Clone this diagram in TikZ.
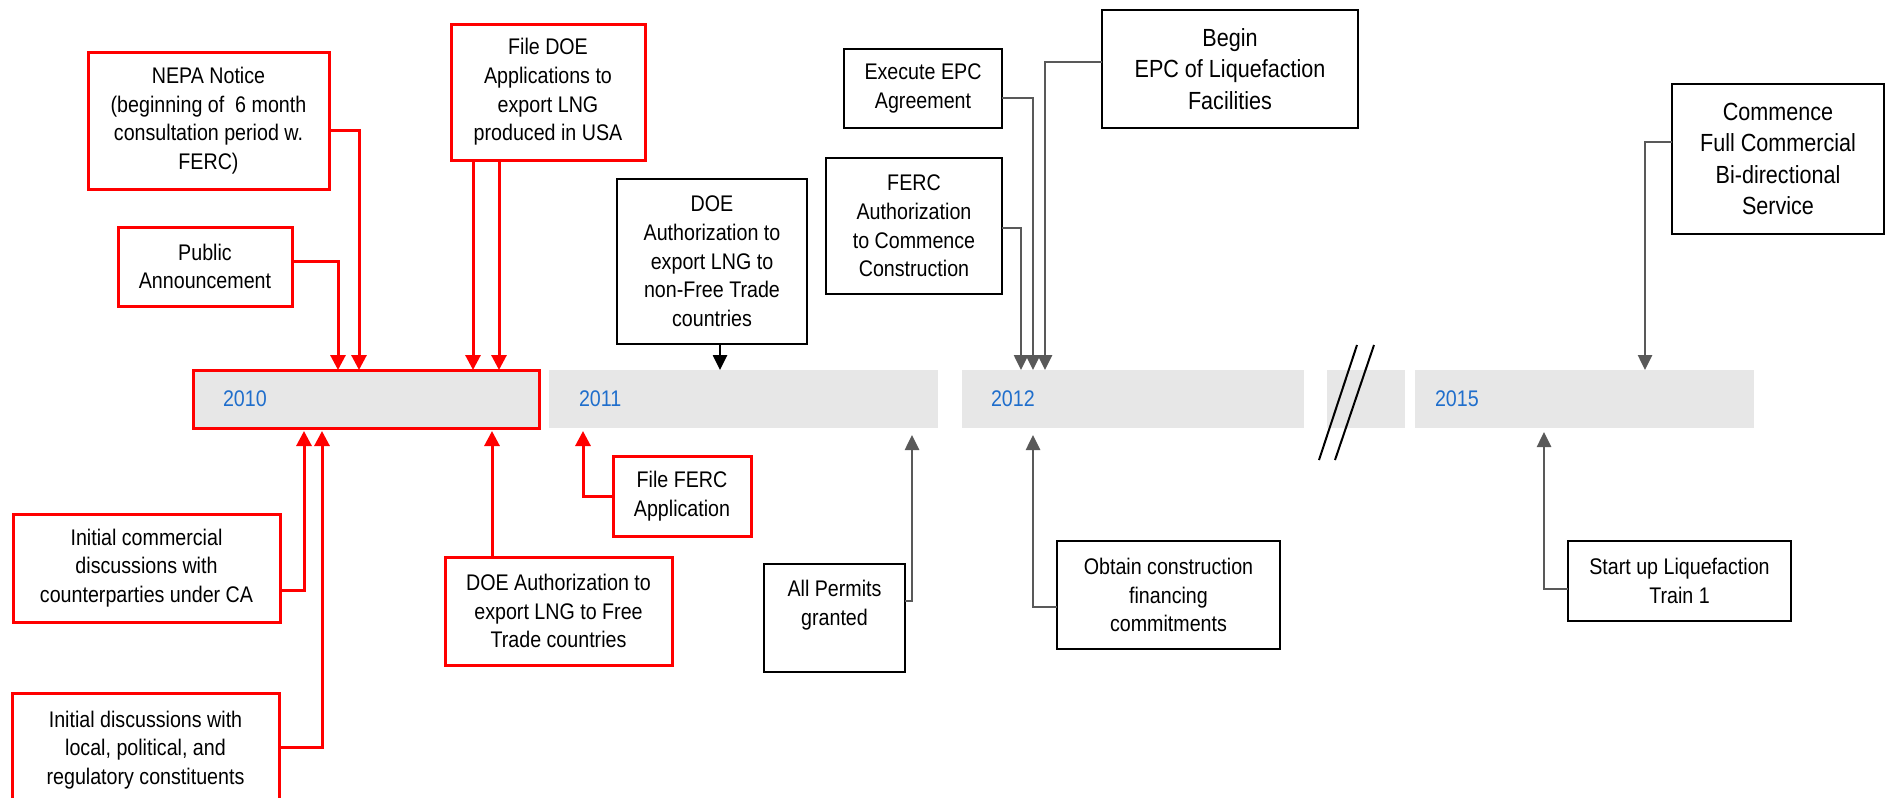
\documentclass[tikz,border=0pt]{standalone}
\usepackage{fontspec}
\setmainfont[FakeStretch=0.87]{Liberation Sans}
\usetikzlibrary{arrows.meta,calc}
\definecolor{barfill}{RGB}{231,231,231}
\definecolor{yearblue}{RGB}{31,110,204}
\definecolor{conngrey}{RGB}{89,89,89}
\definecolor{pptred}{RGB}{255,0,0}
\tikzset{
 every node/.style={inner sep=0pt, outer sep=0pt},
 txt/.style={align=center,font=\fontsize{11.3}{14.35}\selectfont},
 bigtxt/.style={align=center,font=\fontsize{12.4}{15.8}\selectfont},
 redbox/.style={draw=pptred, line width=1.5pt, fill=white, rectangle, txt},
 blkbox/.style={draw=black, line width=1.3pt, fill=white, rectangle, txt},
 bar/.style={fill=barfill, minimum height=29pt, rectangle},
 year/.style={text=yearblue, font=\fontsize{11.3}{13}\selectfont, anchor=west},
 redarr/.style={draw=pptred, line width=1.5pt, -{Triangle[width=7.5pt,length=7.5pt]}},
 greyarr/.style={draw=conngrey, line width=1.3pt, -{Triangle[width=7pt,length=7.5pt]}},
 blkarr/.style={draw=black, line width=1.3pt, -{Triangle[width=7pt,length=7.5pt]}},
 brk/.style={draw=black, line width=1pt},
}
\begin{document}
\begin{tikzpicture}[x=0.5pt,y=-0.5pt]
\useasboundingbox (0,0) rectangle (1886,798);

% timeline bars
\node[bar, draw=pptred, line width=1.5pt, minimum width=173pt] (y2010) at (366,399) {};
\node[bar, minimum width=194.5pt] (y2011) at (743.5,399) {};
\node[bar, minimum width=171pt] (y2012) at (1133,399) {};
\node[bar, minimum width=39pt] (ygap) at (1366,399) {};
\node[bar, minimum width=169.5pt] (y2015) at (1584.5,399) {};
\node[year] (l2010) at ($(y2010.west)+(30,0)$) {2010};
\node[year] (l2011) at ($(y2011.west)+(30,0)$) {2011};
\node[year] (l2012) at ($(y2012.west)+(29,0)$) {2012};
\node[year] (l2015) at ($(y2015.west)+(20,0)$) {2015};

% break mark
\draw[brk] (1357,345) -- (1319,460);
\draw[brk] (1374,345) -- (1335,460);

% red boxes
\node[redbox, minimum width=120.5pt, minimum height=68.5pt] (nepa) at (208.5,120.5)
  {NEPA Notice\\(beginning of \ 6 month\\consultation period w.\\FERC)};
\node[redbox, minimum width=87pt, minimum height=39.5pt] (pub) at (205,266.5)
  {Public\\Announcement};
\node[redbox, minimum width=97pt, minimum height=68pt] (filedoe) at (548,92)
  {File DOE\\Applications to\\export LNG\\produced in USA};
\node[redbox, minimum width=133.5pt, minimum height=54pt] (initcom) at (146.5,568)
  {Initial commercial\\discussions with\\counterparties under CA};
\node[redbox, minimum width=133.5pt, minimum height=57pt] (initdisc) at (145.5,750)
  {Initial discussions with\\local, political, and\\regulatory constituents};
\node[redbox, minimum width=113.5pt, minimum height=54pt] (doeft) at (558.5,611)
  {DOE Authorization to\\export LNG to Free\\Trade countries};
\node[redbox, minimum width=69pt, minimum height=40pt] (fileferc) at (682,496)
  {File FERC\\Application};

% black boxes
\node[blkbox, minimum width=95pt, minimum height=82.5pt] (doenft) at (712,261.5)
  {DOE\\Authorization to\\export LNG to\\non-Free Trade\\countries};
\node[blkbox, minimum width=79pt, minimum height=39.5pt] (execepc) at (923,88.5)
  {Execute EPC\\Agreement};
\node[blkbox, minimum width=88pt, minimum height=68pt] (ferc) at (914,226)
  {FERC\\Authorization\\to Commence\\Construction};
\node[blkbox, bigtxt, minimum width=128pt, minimum height=59pt] (beginepc) at (1230,69)
  {Begin\\EPC of Liquefaction\\Facilities};
\node[blkbox, bigtxt, minimum width=106pt, minimum height=75pt] (commence) at (1778,159)
  {Commence\\Full Commercial\\Bi-directional\\Service};
\node[blkbox, minimum width=70.5pt, minimum height=54pt] (permits) at (834.5,618) {};
\node[txt] (permitstxt) at ($(permits.center)+(0,-13)$) {All Permits\\granted};
\node[blkbox, minimum width=111.5pt, minimum height=54pt] (obtain) at (1168.5,595)
  {Obtain construction\\financing\\commitments};
\node[blkbox, minimum width=111.5pt, minimum height=40pt] (startup) at (1679.5,581)
  {Start up Liquefaction\\Train 1};

% red connectors
\draw[redarr] ($(nepa.east)+(0,9.5)$) -| ($(y2010.north west)+(166,0)$);
\draw[redarr] ($(pub.east)+(0,-5.5)$) -| ($(y2010.north west)+(145,0)$);
\draw[redarr] ($(filedoe.south west)+(22,0)$) -- ($(y2010.north west)+(280,0)$);
\draw[redarr] ($(filedoe.south west)+(48,0)$) -- ($(y2010.north west)+(306,0)$);
\draw[redarr] ($(initcom.east)+(0,22)$) -| ($(y2010.south west)+(111,3)$);
\draw[redarr] ($(initdisc.east)+(0,-3)$) -| ($(y2010.south west)+(129,3)$);
\draw[redarr] ($(doeft.north west)+(47,0)$) -- ($(y2010.south west)+(299,3)$);
\draw[redarr] (fileferc.west) -| ($(y2011.south west)+(34,3)$);

% black connector
\draw[blkarr] ($(doenft.south)+(8,0)$) -- ($(y2011.north west)+(171,0)$);

% grey connectors
\draw[greyarr] ($(execepc.east)+(0,9.5)$) -| ($(y2012.north west)+(71,0)$);
\draw[greyarr] ($(ferc.east)+(0,2)$) -| ($(y2012.north west)+(59,0)$);
\draw[greyarr] ($(beginepc.west)+(0,-7)$) -| ($(y2012.north west)+(83,0)$);
\draw[greyarr] ($(commence.west)+(0,-17)$) -| ($(y2015.north west)+(230,0)$);
\draw[greyarr] ($(permits.east)+(0,-17)$) -| ($(y2011.south west)+(363,7)$);
\draw[greyarr] ($(obtain.west)+(0,12)$) -| ($(y2012.south west)+(71,7)$);
\draw[greyarr] ($(startup.west)+(0,8)$) -| ($(y2015.south west)+(129,4)$);
\end{tikzpicture}
\end{document}
